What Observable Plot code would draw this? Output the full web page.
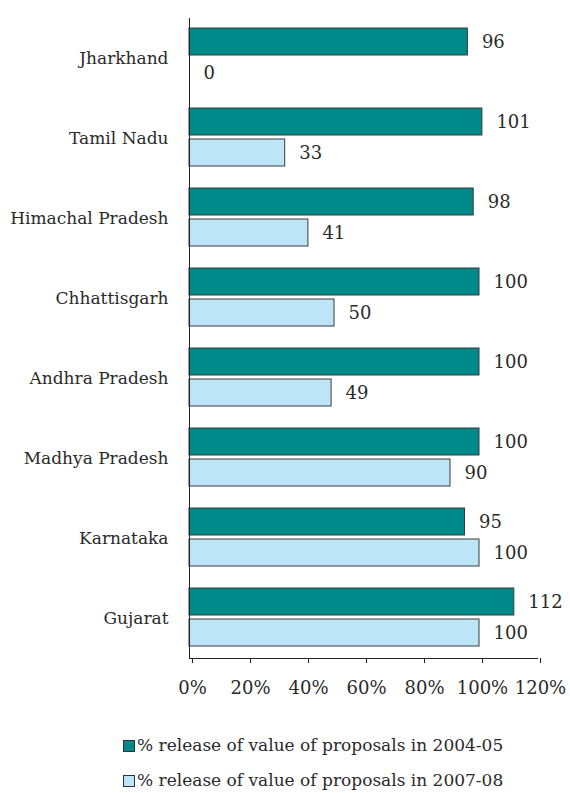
<!DOCTYPE html>
<html>
<head>
<meta charset="utf-8">
<script src="https://cdn.jsdelivr.net/npm/d3@7"></script>
<script src="https://cdn.jsdelivr.net/npm/@observablehq/plot@0.6"></script>
<style>
  html, body { margin: 0; padding: 0; background: #fff; }
  body { width: 570px; height: 793px; overflow: hidden; position: relative; font-family: "DejaVu Serif", serif; }
  #chart svg { display: block; }
  .legend-sw { position: absolute; width: 10px; height: 10px; border: 1px solid #333; }
  .legend-tx { position: absolute; font-size: 17px; line-height: 20px; color: #2a2a2a; white-space: nowrap; }
</style>
</head>
<body>
<div id="chart"></div>
<div id="legend"></div>
<script>
const states = ["Jharkhand", "Tamil Nadu", "Himachal Pradesh", "Chhattisgarh", "Andhra Pradesh", "Madhya Pradesh", "Karnataka", "Gujarat"];
const series = ["% release of value of proposals in 2004-05", "% release of value of proposals in 2007-08"];
const values0405 = [96, 101, 98, 100, 100, 100, 95, 112];
const values0708 = [0, 33, 41, 50, 49, 90, 100, 100];
const xTicks = [0, 20, 40, 60, 80, 100, 120];
const colors = ["#00898a", "#bde5f8"];

const data = [];
states.forEach((s, i) => {
  data.push({state: s, series: series[0], value: values0405[i]});
  data.push({state: s, series: series[1], value: values0708[i]});
});

const chart = Plot.plot({
  width: 570,
  height: 720,
  marginTop: 16,
  marginBottom: 60,
  marginLeft: 189,
  marginRight: 33,
  style: {fontFamily: "'DejaVu Serif', serif", fontSize: "17px", color: "#2a2a2a"},
  x: {domain: [0, 120], label: null},
  fy: {domain: states, padding: 0, label: null},
  y: {domain: series, paddingInner: 0.125, paddingOuter: 0.32, align: 0.44, axis: null},
  color: {domain: series, range: colors},
  marks: [
    Plot.barX(data, {fy: "state", y: "series", x: "value", fill: "series", stroke: "#3a3a3a", strokeWidth: 1}),
    Plot.text(data, {fy: "state", y: "series", x: "value", text: d => String(d.value), textAnchor: "start", dx: 14, fill: "#2a2a2a", fontSize: 18}),
    Plot.ruleX([0], {stroke: "#222"}),
    Plot.frame({anchor: "bottom", facetAnchor: "bottom", stroke: "#222"}),
    Plot.axisX({anchor: "bottom", ticks: xTicks, tickFormat: d => d + "%", tickSize: 5, tickPadding: 18, stroke: "#222", fontSize: 18, dx: 3, label: null}),
    Plot.axisFy({anchor: "left", tickSize: 0, tickPadding: 21, fontSize: 17, label: null})
  ]
});
document.getElementById("chart").appendChild(chart);

const legend = document.getElementById("legend");
const rowTops = [735, 770];
series.forEach((s, i) => {
  const sw = document.createElement("div");
  sw.className = "legend-sw";
  sw.style.background = colors[i];
  sw.style.left = "123px";
  sw.style.top = (rowTops[i] + 5) + "px";
  const t = document.createElement("div");
  t.className = "legend-tx";
  t.style.left = "137px";
  t.style.top = rowTops[i] + "px";
  t.textContent = s;
  legend.appendChild(sw);
  legend.appendChild(t);
});
</script>
</body>
</html>
